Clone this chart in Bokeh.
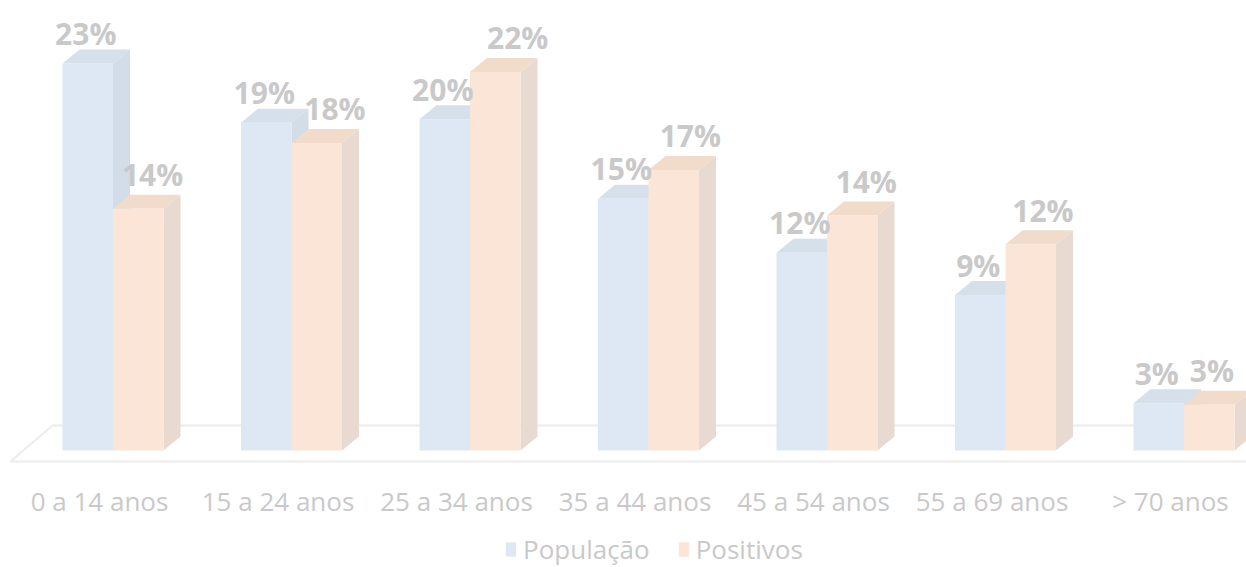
from bokeh.plotting import figure
from bokeh.models import Range1d, Legend, LegendItem, ColumnDataSource
from bokeh.core.properties import value
from bokeh.embed import file_html
from bokeh.resources import INLINE

# ---- data ----
categories = ["0 a 14 anos", "15 a 24 anos", "25 a 34 anos", "35 a 44 anos",
              "45 a 54 anos", "55 a 69 anos", "> 70 anos"]
populacao = [22.9, 19.4, 19.6, 14.9, 11.7, 9.2, 2.8]
positivos = [14.3, 18.2, 22.4, 16.6, 13.9, 12.2, 2.7]
series_names = ["População", "Positivos"]

# ---- style ----
W, H = 1246, 567
UNIT_PX = 178.5          # px per category
PCT_PX = 16.9            # px per percentage point
BASE_PX = 450            # baseline (from top)
xs = -112.5 / UNIT_PX
xe = xs + W / UNIT_PX
ys = -(H - BASE_PX) / PCT_PX
ye = BASE_PX / PCT_PX

BW = 50.5 / UNIT_PX      # bar width (data units)
DX = 17 / UNIT_PX        # depth offset x
DY = 14 / PCT_PX         # depth offset y

TXT = "#c9c9c9"
FONT = "Open Sans"

colors = {
    "front": ["#dde8f4", "#fbe5d6"],
    "top":   ["#d5e0eb", "#f1dccc"],
    "side":  ["#d3dde7", "#e8dad0"],
}

p = figure(width=W, height=H, x_range=Range1d(xs, xe), y_range=Range1d(ys, ye),
           output_backend="svg", toolbar_location=None, min_border=0,
           outline_line_color=None)
p.axis.visible = False
p.grid.visible = False
p.background_fill_color = "white"
p.border_fill_color = "white"

n = len(categories)

# floor
floor_front_y = -11 / PCT_PX
floor_back_y = 25 / PCT_PX
fl_left_front = (10 - 112.5) / UNIT_PX
fl_left_back = fl_left_front + 42 / UNIT_PX
p.line([xe + 1, fl_left_front, fl_left_back, xe + 1],
       [floor_front_y, floor_front_y, floor_back_y, floor_back_y],
       line_color="#ececec", line_width=2)

front_renderers = []
for s, vals in enumerate([populacao, positivos]):
    lefts = [i - BW + s * BW for i in range(n)]
    rights = [l + BW for l in lefts]
    side_xs = [[r, r + DX, r + DX, r] for r in rights]
    side_ys = [[0, DY, v + DY, v] for v in vals]
    top_xs = [[l, l + DX, r + DX, r] for l, r in zip(lefts, rights)]
    top_ys = [[v, v + DY, v + DY, v] for v in vals]
    p.patches(side_xs, side_ys, fill_color=colors["side"][s], line_color=None)
    p.patches(top_xs, top_ys, fill_color=colors["top"][s], line_color=None)
    fr = p.quad(left=lefts, right=rights, bottom=0, top=vals,
                fill_color=colors["front"][s], line_color=None)
    front_renderers.append(fr)

# data labels
pop_lab_x = [i - BW / 2 - 2 / UNIT_PX for i in range(n)]
pop_lab_y = [v + 30 / PCT_PX for v in populacao]
pos_lab_x = [i + BW / 2 + v / UNIT_PX for i, v in enumerate(positivos)]
pos_lab_y = [v + 34 / PCT_PX for v in positivos]
for lx, ly, vals in [(pop_lab_x, pop_lab_y, populacao), (pos_lab_x, pos_lab_y, positivos)]:
    src = ColumnDataSource(dict(x=lx, y=ly, t=[f"{round(v)}%" for v in vals]))
    p.text(x="x", y="y", text="t", source=src, text_align="center",
           text_baseline="alphabetic", text_font=value(FONT),
           text_font_size="30px", text_font_style="bold", text_color=TXT)

# category labels
cat_src = ColumnDataSource(dict(x=[i - 13.5 / UNIT_PX for i in range(n)],
                                y=[-50 / PCT_PX] * n, t=categories))
p.text(x="x", y="y", text="t", source=cat_src, text_align="center",
       text_baseline="alphabetic", text_font=value(FONT),
       text_font_size="26px", text_color=TXT)

legend = Legend(items=[LegendItem(label=series_names[k], renderers=[front_renderers[k]])
                       for k in range(2)],
                orientation="horizontal", location=(504, 0),
                border_line_color=None, background_fill_alpha=0,
                label_text_font=FONT, label_text_font_size="26px",
                label_text_color=TXT, glyph_width=13, glyph_height=18,
                label_standoff=6, spacing=27, padding=0, margin=0)
p.add_layout(legend, "center")

open("out.html", "w").write(file_html(p, INLINE))
